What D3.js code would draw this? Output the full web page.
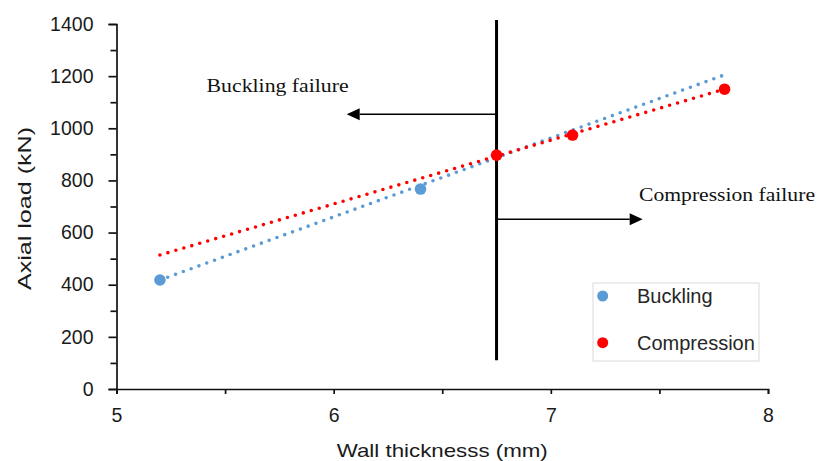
<!DOCTYPE html>
<html>
<head>
<meta charset="utf-8">
<script src="https://cdn.jsdelivr.net/npm/d3@7"></script>
<style>
  html, body { margin: 0; padding: 0; background: #fff; }
  svg { display: block; }
  .tick text { font-family: "Liberation Sans", Arial, sans-serif; fill: #1a1a1a; }
</style>
</head>
<body>
<svg id="chart" width="817" height="461"></svg>
<script>
// Series data: wall thickness (mm) vs axial load (kN)
const seriesNames = ["Buckling", "Compression"];
const seriesColors = ["#5B9BD5", "#FF0000"];
const bucklingThickness = [5.2, 6.4];
const bucklingLoad = [418, 767];
const compressionThickness = [6.75, 7.1, 7.8];
const compressionLoad = [897, 974, 1150];

// Linear trend lines (end points)
const trendThickness = [5.2, 7.8];
const bucklingTrend = [418, 1205];
const compressionTrend = [514, 1150];

// Axes
const xTickValues = [5, 6, 7, 8];
const xMinorTicks = [5.5, 6.5, 7.5];
const yTickValues = [0, 200, 400, 600, 800, 1000, 1200, 1400];
const yMinorTicks = [100, 300, 500, 700, 900, 1100, 1300];
const xTitle = "Wall thicknesss (mm)";
const yTitle = "Axial load  (kN)";

// Failure-mode boundary and annotations
const boundaryThickness = 6.75;
const boundaryLoad = [110, 1415];
const annotationLabels = ["Buckling failure", "Compression failure"];
const annotationThickness = [5.415, 7.406];
const annotationLoad = [1140, 722];
const arrowLoad = [1054, 651];
const arrowTipThickness = [6.06, 7.423];

const svg = d3.select("#chart");
const x = d3.scaleLinear().domain([5, 8]).range([116.5, 768]);
const y = d3.scaleLinear().domain([0, 1400]).range([389, 24]);
const fmt = d3.format("d");

// Y axis
const yAxis = svg.append("g").attr("transform", `translate(${x(5)},0)`)
  .call(d3.axisLeft(y).tickValues(yTickValues).tickFormat(fmt).tickSize(8).tickPadding(15));
yAxis.selectAll("text").attr("font-size", 19.5);
const yMinor = svg.append("g").attr("transform", `translate(${x(5)},0)`)
  .call(d3.axisLeft(y).tickValues(yMinorTicks).tickSize(6).tickFormat(""));
yMinor.select(".domain").remove();

// X axis
const xAxis = svg.append("g").attr("transform", `translate(0,${y(0)})`)
  .call(d3.axisBottom(x).tickValues(xTickValues).tickFormat(fmt).tickSize(5).tickPadding(14));
xAxis.selectAll("text").attr("font-size", 19.5);
const xMinor = svg.append("g").attr("transform", `translate(0,${y(0)})`)
  .call(d3.axisBottom(x).tickValues(xMinorTicks).tickSize(5).tickFormat(""));
xMinor.select(".domain").remove();

svg.selectAll(".domain, .tick line").attr("stroke", "#111").attr("stroke-width", 1.7);

// Axis titles
svg.append("text")
  .attr("x", (x.range()[0] + x.range()[1]) / 2).attr("y", 456.5)
  .attr("text-anchor", "middle")
  .attr("font-family", "Liberation Sans, Arial, sans-serif")
  .attr("font-size", 19).attr("fill", "#1a1a1a")
  .attr("textLength", 211).attr("lengthAdjust", "spacingAndGlyphs")
  .text(xTitle);

svg.append("text")
  .attr("transform", `translate(31,${(y.range()[0] + y.range()[1]) / 2 + 2}) rotate(-90)`)
  .attr("text-anchor", "middle")
  .attr("font-family", "Liberation Sans, Arial, sans-serif")
  .attr("font-size", 18.5).attr("fill", "#1a1a1a")
  .attr("textLength", 163).attr("lengthAdjust", "spacingAndGlyphs")
  .text(yTitle);

// Boundary line and arrows
const annot = svg.append("g");
annot.append("line")
  .attr("x1", x(boundaryThickness)).attr("x2", x(boundaryThickness))
  .attr("y1", y(boundaryLoad[0])).attr("y2", y(boundaryLoad[1]))
  .attr("stroke", "#000").attr("stroke-width", 3);

arrowLoad.forEach((load, i) => {
  const x0 = x(boundaryThickness), x1 = x(arrowTipThickness[i]), yy = y(load);
  const dir = Math.sign(x1 - x0);
  const headLen = 13, headHalf = 6;
  annot.append("line")
    .attr("x1", x0).attr("x2", x1 - dir * headLen)
    .attr("y1", yy).attr("y2", yy)
    .attr("stroke", "#000").attr("stroke-width", 1.6);
  annot.append("path")
    .attr("d", `M${x1},${yy} L${x1 - dir * headLen},${yy - headHalf} L${x1 - dir * headLen},${yy + headHalf} Z`)
    .attr("fill", "#000");
});

const annotLengths = [142, 176];
annotationLabels.forEach((label, i) => {
  annot.append("text")
    .attr("x", x(annotationThickness[i])).attr("y", y(annotationLoad[i]))
    .attr("font-family", "Liberation Serif, 'Times New Roman', serif")
    .attr("font-size", 18.5).attr("fill", "#111")
    .attr("textLength", annotLengths[i]).attr("lengthAdjust", "spacingAndGlyphs")
    .text(label);
});

// Dotted trend lines
const line = d3.line().x(d => x(d[0])).y(d => y(d[1]));
[bucklingTrend, compressionTrend].forEach((trend, i) => {
  svg.append("path")
    .datum(trendThickness.map((t, j) => [t, trend[j]]))
    .attr("d", line)
    .attr("fill", "none")
    .attr("stroke", seriesColors[i])
    .attr("stroke-width", 3.6)
    .attr("stroke-linecap", "round")
    .attr("stroke-dasharray", "0 8.3");
});

// Data points
const seriesPoints = [
  bucklingThickness.map((t, j) => [t, bucklingLoad[j]]),
  compressionThickness.map((t, j) => [t, compressionLoad[j]])
];
seriesPoints.forEach((pts, i) => {
  svg.append("g").selectAll("circle").data(pts).join("circle")
    .attr("cx", d => x(d[0])).attr("cy", d => y(d[1]))
    .attr("r", 5.8).attr("fill", seriesColors[i]);
});

// Legend
const legend = svg.append("g");
legend.append("rect")
  .attr("x", 593).attr("y", 283).attr("width", 166).attr("height", 78)
  .attr("fill", "#fff").attr("stroke", "#d9d9d9").attr("stroke-width", 1);
seriesNames.forEach((name, i) => {
  const cy = 296 + i * 46.7;
  legend.append("circle").attr("cx", 602.7).attr("cy", cy).attr("r", 5.5).attr("fill", seriesColors[i]);
  legend.append("text")
    .attr("x", 637).attr("y", cy + 7)
    .attr("font-family", "Liberation Sans, Arial, sans-serif")
    .attr("font-size", 20).attr("fill", "#262626")
    .text(name);
});
</script>
</body>
</html>
